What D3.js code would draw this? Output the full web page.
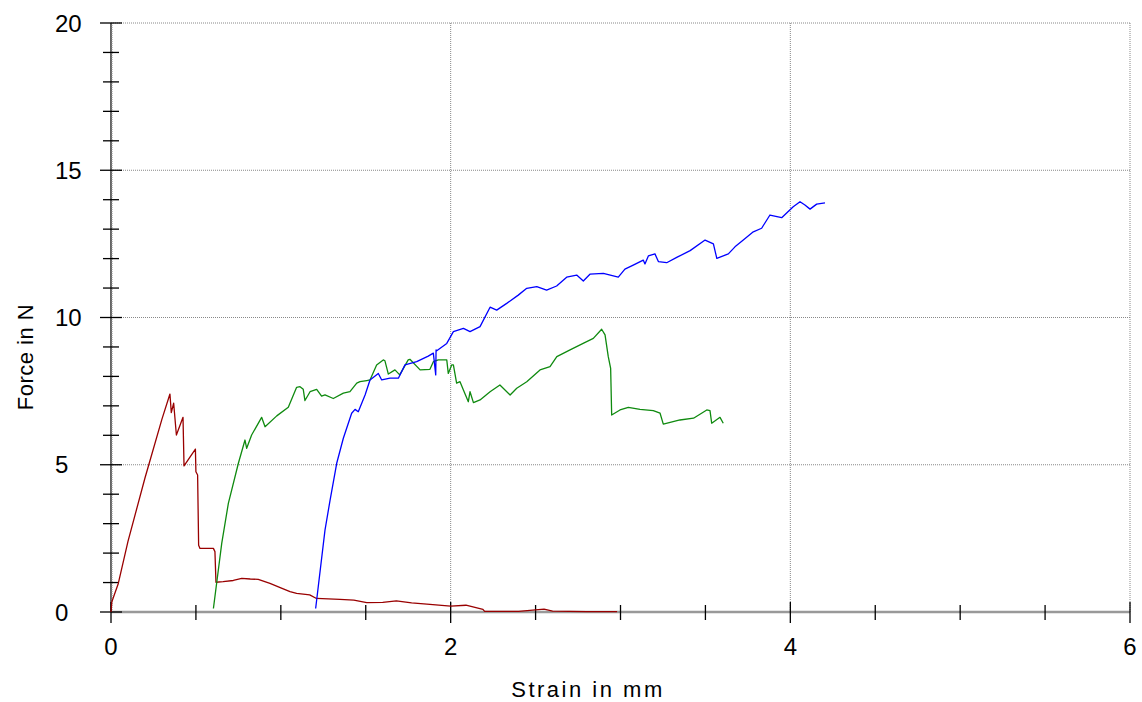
<!DOCTYPE html>
<html>
<head>
<meta charset="utf-8">
<script src="https://cdn.jsdelivr.net/npm/d3@7"></script>
<style>
  html, body { margin: 0; padding: 0; background: #fff; }
  svg { display: block; }
  text { font-family: "Liberation Sans", Arial, sans-serif; fill: #000; }
</style>
</head>
<body>
<svg id="chart" width="1142" height="702"></svg>
<script>
// ---- data ----
const xTicks = [0, 2, 4, 6];
const yTicks = [0, 5, 10, 15, 20];
const xLabel = "Strain in mm";
const yLabel = "Force in N";

const redX = [0, 0.005, 0.043, 0.1, 0.2, 0.3, 0.347, 0.355, 0.369, 0.385, 0.424, 0.43, 0.497, 0.50, 0.51, 0.516, 0.524, 0.603, 0.612, 0.618, 0.66, 0.72, 0.77, 0.82, 0.867, 0.936, 1.0, 1.054, 1.093, 1.17, 1.21, 1.348, 1.43, 1.506, 1.60, 1.68, 1.77, 1.86, 2.0, 2.09, 2.19, 2.2, 2.4, 2.55, 2.6, 2.8, 2.98];
const redY = [0, 0.35, 0.97, 2.4, 4.55, 6.55, 7.40, 6.77, 7.09, 6.01, 6.61, 4.96, 5.53, 4.76, 4.65, 2.27, 2.16, 2.16, 2.05, 1.01, 1.03, 1.07, 1.14, 1.12, 1.11, 0.97, 0.82, 0.69, 0.63, 0.58, 0.46, 0.43, 0.40, 0.32, 0.33, 0.38, 0.31, 0.27, 0.2, 0.23, 0.09, 0.02, 0.02, 0.1, 0.03, 0.01, 0.01];

const greenX = [0.603, 0.652, 0.691, 0.75, 0.789, 0.799, 0.828, 0.887, 0.907, 0.976, 1.044, 1.093, 1.113, 1.132, 1.142, 1.172, 1.211, 1.24, 1.26, 1.309, 1.368, 1.407, 1.447, 1.466, 1.506, 1.525, 1.564, 1.603, 1.613, 1.633, 1.672, 1.70, 1.75, 1.76, 1.82, 1.878, 1.898, 1.927, 1.977, 1.986, 2.006, 2.016, 2.035, 2.055, 2.075, 2.104, 2.114, 2.134, 2.173, 2.232, 2.29, 2.35, 2.389, 2.448, 2.526, 2.585, 2.625, 2.703, 2.78, 2.84, 2.889, 2.909, 2.928, 2.942, 2.948, 2.997, 3.046, 3.115, 3.193, 3.233, 3.252, 3.35, 3.43, 3.508, 3.527, 3.537, 3.586, 3.605];
const greenY = [0.12, 2.33, 3.69, 5.05, 5.84, 5.56, 6.01, 6.61, 6.29, 6.66, 6.95, 7.63, 7.65, 7.56, 7.18, 7.48, 7.56, 7.33, 7.37, 7.25, 7.43, 7.48, 7.77, 7.82, 7.86, 7.88, 8.39, 8.56, 8.53, 8.08, 8.22, 8.05, 8.56, 8.58, 8.22, 8.24, 8.5, 8.56, 8.56, 8.1, 8.39, 8.39, 7.77, 7.82, 7.54, 7.14, 7.48, 7.11, 7.2, 7.48, 7.71, 7.37, 7.6, 7.82, 8.22, 8.33, 8.67, 8.9, 9.12, 9.29, 9.6, 9.41, 8.67, 8.27, 6.69, 6.86, 6.95, 6.88, 6.84, 6.75, 6.38, 6.52, 6.58, 6.86, 6.84, 6.41, 6.61, 6.41];

const blueX = [1.205, 1.26, 1.29, 1.329, 1.368, 1.417, 1.437, 1.456, 1.496, 1.525, 1.574, 1.594, 1.643, 1.692, 1.731, 1.80, 1.868, 1.898, 1.912, 1.914, 1.918, 1.977, 2.016, 2.075, 2.114, 2.173, 2.232, 2.271, 2.33, 2.398, 2.448, 2.507, 2.565, 2.624, 2.683, 2.742, 2.781, 2.82, 2.899, 2.987, 3.026, 3.075, 3.134, 3.144, 3.164, 3.203, 3.223, 3.272, 3.331, 3.41, 3.498, 3.547, 3.567, 3.635, 3.674, 3.723, 3.782, 3.831, 3.88, 3.949, 4.017, 4.057, 4.086, 4.116, 4.155, 4.204];
const blueY = [0.12, 2.78, 3.8, 5.05, 5.9, 6.75, 6.88, 6.8, 7.37, 7.88, 8.1, 7.88, 7.94, 7.94, 8.39, 8.5, 8.69, 8.79, 8.05, 8.9, 8.87, 9.12, 9.52, 9.63, 9.52, 9.69, 10.35, 10.25, 10.48, 10.76, 10.99, 11.05, 10.93, 11.07, 11.37, 11.44, 11.24, 11.47, 11.5, 11.37, 11.64, 11.78, 11.95, 11.82, 12.09, 12.16, 11.9, 11.86, 12.04, 12.27, 12.63, 12.5, 12.01, 12.16, 12.4, 12.63, 12.91, 13.03, 13.48, 13.39, 13.76, 13.93, 13.82, 13.68, 13.85, 13.89];

const series = [
  { name: "red", xs: redX, ys: redY, color: "#990000" },
  { name: "green", xs: greenX, ys: greenY, color: "#0f8a0f" },
  { name: "blue", xs: blueX, ys: blueY, color: "#0000ff" }
];

// ---- chart ----
const svg = d3.select("#chart");
const x = d3.scaleLinear().domain([0, 6]).range([111, 1130]);
const y = d3.scaleLinear().domain([0, 20]).range([612, 23]);

// grid lines (dotted)
const grid = svg.append("g");
grid.selectAll("line.gx").data(xTicks.filter(d => d > 0)).enter().append("line")
  .attr("x1", d => x(d)).attr("x2", d => x(d))
  .attr("y1", y(0)).attr("y2", y(20))
  .attr("stroke", "#888").attr("stroke-width", 1).attr("stroke-dasharray", "1,1");
grid.selectAll("line.gy").data(yTicks.filter(d => d > 0)).enter().append("line")
  .attr("x1", x(0)).attr("x2", x(6))
  .attr("y1", d => y(d)).attr("y2", d => y(d))
  .attr("stroke", "#888").attr("stroke-width", 1).attr("stroke-dasharray", "1,1");

// axes lines
svg.append("line").attr("x1", x(0)).attr("x2", x(6)).attr("y1", y(0)).attr("y2", y(0))
  .attr("stroke", "#999").attr("stroke-width", 2.5);
svg.append("line").attr("x1", x(0)).attr("x2", x(0)).attr("y1", y(0)).attr("y2", y(20))
  .attr("stroke", "#000").attr("stroke-width", 1.2);
svg.append("line").attr("x1", x(0) + 1.2).attr("x2", x(0) + 1.2).attr("y1", y(0)).attr("y2", y(20))
  .attr("stroke", "#aaa").attr("stroke-width", 1).attr("stroke-dasharray", "1,1");

// y ticks
const yMinor = d3.range(0, 21, 1);
svg.append("g").selectAll("line").data(yMinor).enter().append("line")
  .attr("x1", d => d % 5 === 0 ? 100 : 103).attr("x2", d => d % 5 === 0 ? 122 : 119)
  .attr("y1", d => y(d)).attr("y2", d => y(d))
  .attr("stroke", "#000").attr("stroke-width", 1.3);

// x ticks
const xMinor = d3.range(0, 6.01, 0.5);
svg.append("g").selectAll("line").data(xMinor).enter().append("line")
  .attr("x1", d => x(d)).attr("x2", d => x(d))
  .attr("y1", d => Math.abs(d % 2) < 1e-9 ? 602 : 605)
  .attr("y2", d => Math.abs(d % 2) < 1e-9 ? 623 : 620)
  .attr("stroke", "#000").attr("stroke-width", 1.3);

// tick labels
svg.append("g").selectAll("text").data(yTicks).enter().append("text")
  .attr("x", 55).attr("y", d => y(d)).attr("dy", "0.36em")
  .attr("text-anchor", "start").attr("font-size", 24)
  .text(d => d);
svg.append("g").selectAll("text").data(xTicks).enter().append("text")
  .attr("x", d => x(d)).attr("y", 655)
  .attr("text-anchor", "middle").attr("font-size", 24)
  .text(d => d);

// axis titles
svg.append("text").attr("x", 588).attr("y", 697).attr("text-anchor", "middle")
  .attr("font-size", 22).attr("letter-spacing", "2.5px").text(xLabel);
svg.append("text").attr("transform", "translate(33,357) rotate(-90)")
  .attr("text-anchor", "middle").attr("font-size", 22).attr("letter-spacing", "0.5px").text(yLabel);

// series
const line = d3.line().x(d => x(d[0])).y(d => y(d[1]));
svg.append("g").selectAll("path").data(series).enter().append("path")
  .attr("d", s => line(s.xs.map((v, i) => [v, s.ys[i]])))
  .attr("fill", "none").attr("stroke", s => s.color).attr("stroke-width", 1.3)
  .attr("stroke-linejoin", "round");
</script>
</body>
</html>
